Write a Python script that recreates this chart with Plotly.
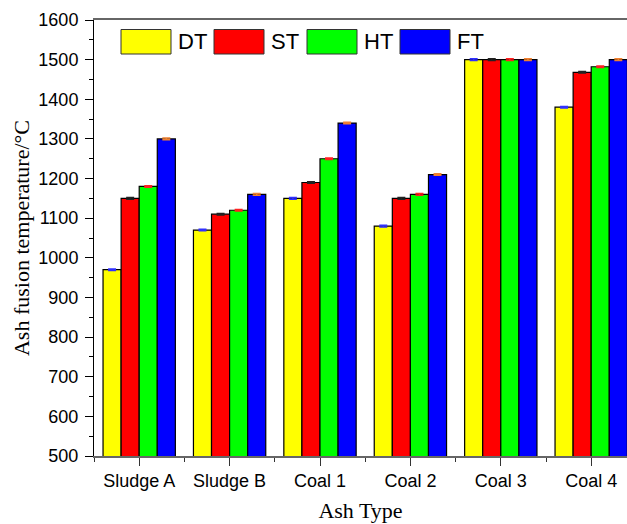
import plotly.graph_objects as go

# Ash fusion temperatures (°C) per ash sample
ash_types = ["Sludge A", "Sludge B", "Coal 1", "Coal 2", "Coal 3", "Coal 4"]
dt_values = [970, 1070, 1150, 1080, 1500, 1380]
st_values = [1150, 1110, 1190, 1150, 1500, 1468]
ht_values = [1180, 1120, 1250, 1160, 1500, 1482]
ft_values = [1300, 1160, 1340, 1210, 1500, 1500]
err_values = [2, 2, 2, 2, 2, 2]
y_ticks = [500, 600, 700, 800, 900, 1000, 1100, 1200, 1300, 1400, 1500, 1600]

series = [
    ("DT", dt_values, "#ffff00", "#3030ff"),
    ("ST", st_values, "#ff0000", "#222222"),
    ("HT", ht_values, "#00ff00", "#ff2020"),
    ("FT", ft_values, "#0000ff", "#f08030"),
]

x_pos = list(range(len(ash_types)))

fig = go.Figure()
for name, vals, color, cap_color in series:
    fig.add_trace(go.Bar(
        name=name, x=x_pos, y=vals,
        marker=dict(color=color, line=dict(color="black", width=1.2)),
        error_y=dict(type="data", array=err_values, color=cap_color,
                     thickness=1.5, width=4),
        showlegend=False,
    ))

W, H = 627, 524
ML, MR, MT, MB = 94, 0, 20, 68
PW, PH = W - ML - MR, H - MT - MB


def px_x(px):
    return (px - ML) / PW


def px_y(py):
    return (H - MB - py) / PH


# legend boxes and labels drawn along the top of the plot area
shapes, annotations = [], []
box_left, step, box_w, box_top, box_bot = 121, 93, 50, 29.5, 54
for i, (name, _, color, _) in enumerate(series):
    x0 = box_left + i * step
    shapes.append(dict(type="rect", xref="paper", yref="paper",
                       x0=px_x(x0), x1=px_x(x0 + box_w),
                       y0=px_y(box_bot), y1=px_y(box_top),
                       fillcolor=color, line=dict(color="#333333", width=1)))
    annotations.append(dict(xref="paper", yref="paper",
                            x=px_x(x0 + box_w + 5), y=px_y((box_top + box_bot) / 2),
                            text=name, showarrow=False, xanchor="left", yanchor="middle",
                            font=dict(family="Liberation Sans", size=22, color="black")))

fig.update_layout(
    width=W, height=H,
    margin=dict(l=ML, r=MR, t=MT, b=MB, pad=0),
    paper_bgcolor="white", plot_bgcolor="white",
    barmode="group", bargap=0.2, bargroupgap=0,
    shapes=shapes, annotations=annotations,
    font=dict(family="Liberation Sans", color="black"),
)

fig.update_xaxes(
    range=[-0.5, 5.396],
    tickvals=x_pos, ticktext=ash_types,
    ticks="outside", ticklen=8, tickwidth=1, tickcolor="#333333",
    minor=dict(tick0=-0.5, dtick=1, ticks="outside", ticklen=4, tickcolor="#333333", tickwidth=1),
    showline=True, linecolor="#666666", linewidth=1.5, mirror=True,
    showgrid=False, zeroline=False,
    tickfont=dict(family="Liberation Sans", size=18, color="black"),
    title=dict(text="Ash Type", standoff=12,
               font=dict(family="Liberation Serif", size=22, color="black")),
)

fig.update_yaxes(
    range=[500, 1600],
    tickvals=y_ticks,
    ticks="outside", ticklen=8, tickwidth=1, tickcolor="black",
    minor=dict(dtick=50, tick0=500, ticks="outside", ticklen=4, tickcolor="black", tickwidth=1),
    showline=True, linecolor="black", linewidth=1,
    showgrid=False, zeroline=False,
    ticklabelstandoff=3,
    tickfont=dict(family="Liberation Sans", size=18, color="black"),
    title=dict(text="Ash fusion temperature/°C", standoff=2,
               font=dict(family="Liberation Serif", size=22, color="black")),
)

fig.write_html("out.html")
